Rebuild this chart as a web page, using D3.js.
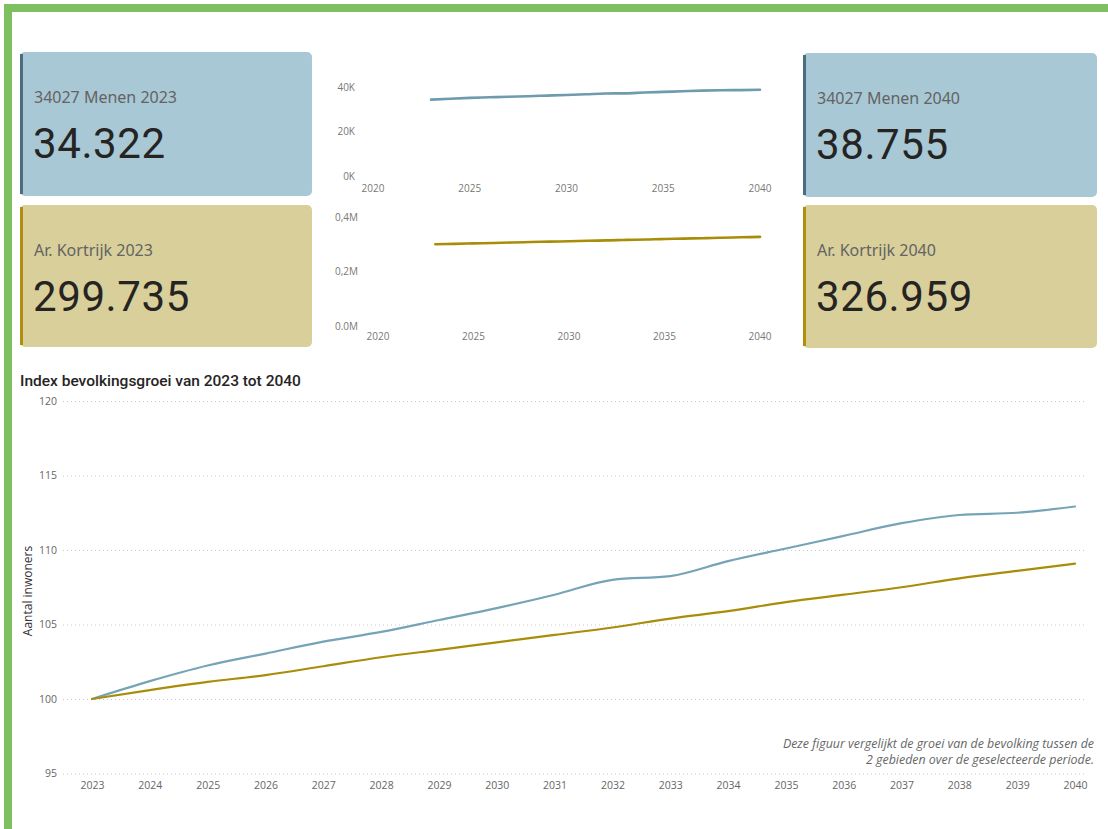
<!DOCTYPE html>
<html><head><meta charset="utf-8">
<script src="https://cdn.jsdelivr.net/npm/d3@7"></script>
<style>
body{margin:0;background:#fff;}
svg{display:block;}
</style></head>
<body>
<svg id="c" width="1108" height="829"></svg>
<script>
// ---------- DATA ----------
const years = [2023,2024,2025,2026,2027,2028,2029,2030,2031,2032,2033,2034,2035,2036,2037,2038,2039,2040];
const menenIndex    = [100,101.2,102.25,103.05,103.85,104.5,105.3,106.1,107.0,108.0,108.25,109.25,110.1,110.95,111.8,112.35,112.5,112.92];
const kortrijkIndex = [100,100.6,101.15,101.6,102.2,102.8,103.3,103.8,104.3,104.8,105.4,105.9,106.5,107.0,107.5,108.1,108.6,109.08];
const menenPop    = [34322,34735,35095,35370,35645,35865,36140,36415,36725,37070,37155,37500,37790,38080,38375,38560,38615,38755];
const kortrijkPop = [299735,301535,303180,304530,306330,308125,309625,311125,312625,314125,315925,317425,319225,320725,322225,324025,325525,326959];
const yTicksMain = [95,100,105,110,115,120];
const sparkYearTicks = [2020,2025,2030,2035,2040];
const spark1Ticks = [0,20000,40000];
const spark1Labels = ["0K","20K","40K"];
const spark2Ticks = [0,200000,400000];
const spark2Labels = ["0.0M","0,2M","0,4M"];
const cards = [
  {title:"34027 Menen 2023", value:"34.322", kind:"blue"},
  {title:"Ar. Kortrijk 2023", value:"299.735", kind:"gold"},
  {title:"34027 Menen 2040", value:"38.755", kind:"blue"},
  {title:"Ar. Kortrijk 2040", value:"326.959", kind:"gold"}
];
const chartTitle = "Index bevolkingsgroei van 2023 tot 2040";
const yAxisTitle = "Aantal inwoners";
const note = ["Deze figuur vergelijkt de groei van de bevolking tussen de","2 gebieden over de geselecteerde periode."];

// ---------- STYLE ----------
const C = {
  blueCard:"#a9c8d5", blueStripe:"#4c6d7d",
  goldCard:"#d9cf9a", goldStripe:"#b18f0d",
  blueLine:"#76a4b7", goldLine:"#a98d08",
  sparkBlue:"#6e9bad", green:"#7ebf62"
};
const svg = d3.select("#c");
svg.append("rect").attr("width",1108).attr("height",829).attr("fill","#fff");
// green frame
svg.append("rect").attr("x",4).attr("y",4).attr("width",1104).attr("height",8).attr("fill",C.green);
svg.append("rect").attr("x",4).attr("y",4).attr("width",8).attr("height",825).attr("fill",C.green);

// ---------- CARDS ----------
const cardPos = [
  {x:20,y:52,w:292,h:144},
  {x:20,y:205,w:292,h:142},
  {x:803,y:53,w:294,h:144},
  {x:803,y:205,w:294,h:143}
];
cards.forEach((c,i)=>{
  const p = cardPos[i];
  const g = svg.append("g").attr("transform",`translate(${p.x},${p.y})`);
  const bg = c.kind==="blue"?C.blueCard:C.goldCard;
  const st = c.kind==="blue"?C.blueStripe:C.goldStripe;
  g.append("rect").attr("width",p.w).attr("height",p.h).attr("rx",5).attr("fill",bg);
  g.append("rect").attr("x",0).attr("y",2).attr("width",3).attr("height",p.h-4).attr("fill",st);
  g.append("text").attr("x",14).attr("y",51).text(c.title)
    .attr("font-family","'Noto Sans','Open Sans',sans-serif").attr("font-size",16).attr("fill","#636363");
  g.append("text").attr("x",13).attr("y",106).text(c.value)
    .attr("font-family","Roboto,'DejaVu Sans',sans-serif").attr("font-size",42).attr("letter-spacing",0.6).attr("fill","#252423");
});

// ---------- SPARKLINES ----------
function spark(opts){
  const x = d3.scaleLinear().domain([2020,2040]).range([opts.x0,opts.x1]);
  const y = d3.scaleLinear().domain(opts.domain).range([opts.yb,opts.yt]);
  const g = svg.append("g");
  opts.ticks.forEach((t,i)=>{
    g.append("text").attr("x",opts.labX).attr("y",y(t)+3.5).attr("text-anchor","end")
      .text(opts.labels[i]).attr("font-family","'Open Sans','Noto Sans',sans-serif").attr("font-size",10).attr("fill","#777");
  });
  sparkYearTicks.forEach(t=>{
    g.append("text").attr("x",x(t)).attr("y",opts.xlabY).attr("text-anchor","middle")
      .text(t).attr("font-family","'Open Sans','Noto Sans',sans-serif").attr("font-size",10).attr("fill","#777");
  });
  const line = d3.line().x((d,i)=>x(years[i])).y(d=>y(d)).curve(d3.curveMonotoneX);
  g.append("path").datum(opts.data).attr("d",line).attr("fill","none")
    .attr("stroke",opts.color).attr("stroke-width",2.6).attr("stroke-linecap","round");
}
spark({x0:373,x1:760,yb:176,yt:87,domain:[0,40000],ticks:spark1Ticks,labels:spark1Labels,labX:355,xlabY:192,data:menenPop,color:C.sparkBlue});
spark({x0:378,x1:760,yb:326,yt:217,domain:[0,400000],ticks:spark2Ticks,labels:spark2Labels,labX:358,xlabY:340,data:kortrijkPop,color:C.goldLine});

// ---------- MAIN CHART ----------
svg.append("text").attr("x",20).attr("y",386).text(chartTitle)
  .attr("font-family","Roboto,'DejaVu Sans',sans-serif").attr("font-size",15.5).attr("font-weight",500).attr("fill","#252423");

const x = d3.scalePoint().domain(years).range([92,1075]);
const y = d3.scaleLinear().domain([95,120]).range([773.5,401]);
const gy = svg.append("g").attr("transform","translate(63,0)");
gy.call(d3.axisLeft(y).tickValues(yTicksMain).tickSize(-1022).tickPadding(6))
  .call(g=>g.select(".domain").remove())
  .call(g=>g.selectAll(".tick line").attr("stroke","#c8c8c8").attr("stroke-dasharray","1,3"))
  .call(g=>g.selectAll(".tick text").attr("font-family","'Open Sans','Noto Sans',sans-serif").attr("font-size",10.5).attr("fill","#666"));

const gx = svg.append("g").attr("transform","translate(0,773.5)");
gx.call(d3.axisBottom(x).tickSize(0).tickPadding(8))
  .call(g=>g.select(".domain").remove())
  .call(g=>g.selectAll(".tick text").attr("font-family","'Open Sans','Noto Sans',sans-serif").attr("font-size",10.5).attr("fill","#666"));

svg.append("text").attr("transform","translate(32,591) rotate(-90)").attr("text-anchor","middle")
  .text(yAxisTitle).attr("font-family","'Open Sans','Noto Sans',sans-serif").attr("font-size",12).attr("fill","#333");

const mline = d3.line().x((d,i)=>x(years[i])).y(d=>y(d)).curve(d3.curveMonotoneX);
svg.append("path").datum(menenIndex).attr("d",mline).attr("fill","none").attr("stroke",C.blueLine).attr("stroke-width",2.2).attr("stroke-linecap","round");
svg.append("path").datum(kortrijkIndex).attr("d",mline).attr("fill","none").attr("stroke",C.goldLine).attr("stroke-width",2.2).attr("stroke-linecap","round");

note.forEach((t,i)=>{
  svg.append("text").attr("x",1094).attr("y",748+i*16).attr("text-anchor","end").text(t)
    .attr("font-family","'Open Sans','Noto Sans',sans-serif").attr("font-style","italic").attr("font-size",12.4).attr("fill","#666");
});
</script>
</body></html>
